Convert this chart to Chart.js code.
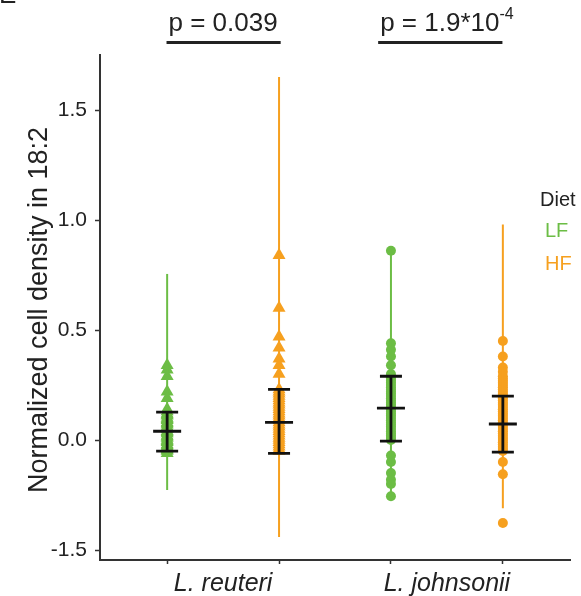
<!DOCTYPE html>
<html>
<head>
<meta charset="utf-8">
<script src="https://cdn.jsdelivr.net/npm/chart.js@4"></script>
<style>
  html, body { margin: 0; padding: 0; background: #fff; }
</style>
</head>
<body>
<canvas id="chart" width="581" height="596"></canvas>
<script>
// groups and diets
const species = ["L. reuteri", "L. johnsonii"];
const diets = ["LF", "HF"];
const pValues = ["p = 0.039", "p = 1.9*10"];
const pExponents = ["", "-4"];
const yTickValues = [-0.5, 0, 0.5, 1, 1.5];
const yTickLabels = ["-1.5", "0.0", "0.5", "1.0", "1.5"];

// individual values
const reuteriLF = [0.34, 0.32, 0.29, 0.22, 0.19, 0.14, 0.13, 0.12, 0.115, 0.11, 0.10, 0.095, 0.09, 0.08, 0.075,
                   0.07, 0.06, 0.055, 0.05, 0.04, 0.035, 0.03, 0.02, 0.015, 0.01, 0.00, -0.005, -0.01, -0.02,
                   -0.025, -0.03, -0.04, -0.045, -0.05, -0.06];
const reuteriHF = [0.84, 0.60, 0.47, 0.42, 0.37, 0.34, 0.30, 0.23, 0.22, 0.21, 0.20, 0.19, 0.18, 0.17, 0.16,
                   0.15, 0.14, 0.13, 0.12, 0.11, 0.10, 0.09, 0.08, 0.07, 0.06, 0.05, 0.04, 0.03, 0.02, 0.01,
                   0.00, -0.01, -0.02, -0.03, -0.04, -0.05];
const johnsoniiLF = [0.86, 0.44, 0.41, 0.38, 0.34, 0.30, 0.29, 0.28, 0.27, 0.26, 0.25, 0.24, 0.23, 0.22, 0.21,
                     0.20, 0.19, 0.18, 0.17, 0.16, 0.15, 0.14, 0.13, 0.12, 0.11, 0.10, 0.09, 0.08, 0.07, 0.06,
                     0.05, 0.04, 0.03, 0.02, 0.01, 0.00, -0.07, -0.10, -0.15, -0.18, -0.20, -0.255];
const johnsoniiHF = [0.45, 0.38, 0.33, 0.31, 0.29, 0.28, 0.27, 0.26, 0.25, 0.24, 0.23, 0.22, 0.21, 0.20, 0.19,
                     0.18, 0.17, 0.16, 0.15, 0.14, 0.13, 0.12, 0.11, 0.10, 0.09, 0.08, 0.07, 0.06, 0.05, 0.04,
                     0.03, 0.02, 0.01, 0.00, -0.01, -0.02, -0.03, -0.04, -0.05, -0.10, -0.155, -0.377];

// x position of each box (1..4), whisker range and mean +/- error
const positions = [1, 2, 3, 4];
const rangeLow = [-0.227, -0.44, -0.255, -0.31];
const rangeHigh = [0.755, 1.65, 0.855, 0.98];
const means = [0.04, 0.08, 0.145, 0.073];
const errHigh = [0.127, 0.23, 0.29, 0.20];
const errLow = [-0.05, -0.06, -0.005, -0.055];

const green = "#6cbd45";
const orange = "#f6a01f";
const colors = [green, orange, green, orange];
const font = "'Liberation Sans', Arial, sans-serif";

function pts(x, vals) {
  return vals.map(v => ({ x: x, y: v }));
}

let datasets = [];
positions.forEach((p, i) => {
  datasets.push({
    type: "line",
    data: [{ x: p, y: rangeLow[i] }, { x: p, y: rangeHigh[i] }],
    borderColor: colors[i],
    borderWidth: 2,
    pointRadius: 0
  });
});
[reuteriLF, reuteriHF, johnsoniiLF, johnsoniiHF].forEach((vals, i) => {
  datasets.push({
    type: "scatter",
    data: pts(positions[i], vals),
    backgroundColor: colors[i],
    borderWidth: 0,
    pointStyle: i < 2 ? "triangle" : "circle",
    pointRadius: i < 2 ? 7.5 : 5
  });
});

const extras = {
  id: "extras",
  afterDatasetsDraw(chart) {
    let ctx = chart.ctx;
    let xs = chart.scales.x, ys = chart.scales.y;
    ctx.save();
    ctx.strokeStyle = "#111";
    ctx.lineWidth = 2.8;
    positions.forEach((p, i) => {
      let px = xs.getPixelForValue(p);
      let top = ys.getPixelForValue(errHigh[i]);
      let bot = ys.getPixelForValue(errLow[i]);
      let mid = ys.getPixelForValue(means[i]);
      ctx.beginPath();
      ctx.moveTo(px, top); ctx.lineTo(px, bot);
      ctx.moveTo(px - 11, top); ctx.lineTo(px + 11, top);
      ctx.moveTo(px - 11, bot); ctx.lineTo(px + 11, bot);
      ctx.moveTo(px - 14, mid); ctx.lineTo(px + 14, mid);
      ctx.stroke();
    });
    ctx.restore();
  },
  afterDraw(chart) {
    let ctx = chart.ctx;
    let xs = chart.scales.x;
    ctx.save();
    ctx.fillStyle = "#222";

    // panel letter, cut off at the top
    ctx.font = "26px " + font;
    ctx.textAlign = "left";
    ctx.textBaseline = "alphabetic";
    ctx.fillText("E", -1, 3);

    // y axis title
    ctx.save();
    ctx.translate(40, 310);
    ctx.rotate(-Math.PI / 2);
    ctx.font = "27px " + font;
    ctx.textAlign = "center";
    ctx.textBaseline = "middle";
    ctx.fillText("Normalized cell density in 18:2", 0, 0);
    ctx.restore();

    // group labels and p values
    species.forEach((s, i) => {
      let cx = xs.getPixelForValue((positions[2 * i] + positions[2 * i + 1]) / 2);
      ctx.font = "italic 25px " + font;
      ctx.textAlign = "center";
      ctx.textBaseline = "alphabetic";
      ctx.fillText(s, cx, 591);

      ctx.font = "26px " + font;
      let w = ctx.measureText(pValues[i]).width;
      ctx.font = "16px " + font;
      let we = ctx.measureText(pExponents[i]).width;
      let left = cx - (w + we) / 2;
      ctx.textAlign = "left";
      ctx.font = "26px " + font;
      ctx.fillText(pValues[i], left, 31);
      ctx.font = "16px " + font;
      ctx.fillText(pExponents[i], left + w, 19);
      ctx.fillRect(left - 2, 41, w + 5, 3);
    });

    // legend
    ctx.textAlign = "left";
    ctx.textBaseline = "middle";
    ctx.font = "20px " + font;
    ctx.fillStyle = "#222";
    ctx.fillText("Diet", 540, 200);
    ctx.fillStyle = green;
    ctx.fillText(diets[0], 545, 231);
    ctx.fillStyle = orange;
    ctx.fillText(diets[1], 545, 264);
    ctx.restore();
  }
};

let ctx = document.getElementById("chart").getContext("2d");
let chart = new Chart(ctx, {
  data: { datasets: datasets },
  options: {
    responsive: false,
    animation: false,
    layout: { padding: { left: 0, right: 11, top: 55, bottom: 0 } },
    plugins: { legend: { display: false }, tooltip: { enabled: false } },
    scales: {
      x: {
        type: "linear",
        min: 0.4,
        max: 4.6,
        afterBuildTicks: scale => { scale.ticks = positions.map(v => ({ value: v })); },
        afterFit: scale => { scale.height = 36; },
        ticks: { display: false },
        grid: { drawOnChartArea: false, drawTicks: true, tickLength: 4, tickColor: "#333", tickWidth: 1.5 },
        border: { color: "#333", width: 2 }
      },
      y: {
        type: "linear",
        min: -0.545,
        max: 1.75,
        afterBuildTicks: scale => { scale.ticks = yTickValues.map(v => ({ value: v })); },
        afterFit: scale => { scale.width = 100; },
        ticks: {
          padding: 8,
          color: "#222",
          font: { family: "'Liberation Sans', Arial, sans-serif", size: 21 },
          callback: (value) => yTickLabels[yTickValues.indexOf(value)]
        },
        grid: { drawOnChartArea: false, drawTicks: true, tickLength: 5, tickColor: "#333", tickWidth: 1.5 },
        border: { color: "#333", width: 2 }
      }
    }
  },
  plugins: [extras]
});
</script>
</body>
</html>
